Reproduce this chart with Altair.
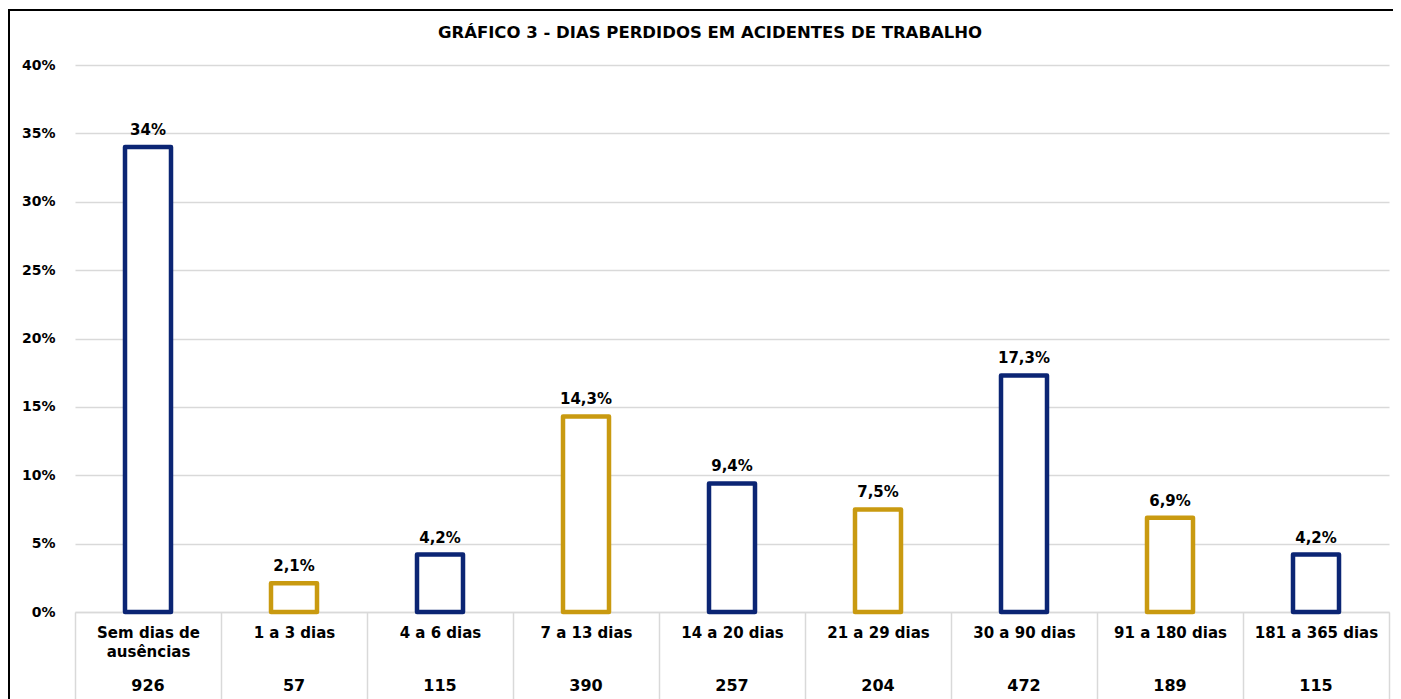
import altair as alt
import pandas as pd

categorias = ["Sem dias de|ausências", "1 a 3 dias", "4 a 6 dias", "7 a 13 dias",
              "14 a 20 dias", "21 a 29 dias", "30 a 90 dias", "91 a 180 dias",
              "181 a 365 dias"]
percentuais = [34.0, 2.1, 4.2, 14.3, 9.4, 7.5, 17.3, 6.9, 4.2]
rotulos = ["34%", "2,1%", "4,2%", "14,3%", "9,4%", "7,5%", "17,3%", "6,9%", "4,2%"]
contagens = [926, 57, 115, 390, 257, 204, 472, 189, 115]
grupos = ["A", "B", "A", "B", "A", "B", "A", "B", "A"]
ticks_y = [0, 5, 10, 15, 20, 25, 30, 35, 40]
titulo = "GRÁFICO 3 - DIAS PERDIDOS EM ACIDENTES DE TRABALHO"

NAVY = "#0b2574"
GOLD = "#c99a10"
GRID = "#d9d9d9"
FONT = "DejaVu Sans"

W, H = 1314, 547

df = pd.DataFrame({
    "cat": categorias,
    "pct": percentuais,
    "rot": rotulos,
    "n": contagens,
    "grupo": grupos,
})

x_enc = alt.X(
    "cat:N", sort=categorias, title=None,
    scale=alt.Scale(paddingInner=0, paddingOuter=0),
    axis=alt.Axis(
        labelAngle=0, labelFont=FONT, labelFontWeight="bold", labelFontSize=15,
        labelColor="black", labelExpr="split(datum.label, '|')", labelLineHeight=19,
        ticks=True, tickBand="extent", tickSize=110, tickColor=GRID, tickWidth=1.5,
        labelPadding=-97, domain=True, domainColor=GRID, domainWidth=1.5, grid=False,
        labelBaseline="top",
    ),
)
y_enc = alt.Y(
    "pct:Q", title=None,
    scale=alt.Scale(domain=[0, 40], nice=False),
    axis=alt.Axis(
        values=ticks_y, labelExpr="datum.value + '%'", labelFont=FONT,
        labelFontWeight="bold", labelFontSize=14, labelColor="black",
        labelPadding=20, ticks=False, domain=False, grid=True, gridColor=GRID,
        gridWidth=1.5,
    ),
)

base = alt.Chart(df)

bars = base.mark_bar(size=46, fill="white", strokeWidth=4.5, strokeJoin="round").encode(
    x=x_enc,
    y=y_enc,
    stroke=alt.Stroke("grupo:N", scale=alt.Scale(domain=["A", "B"], range=[NAVY, GOLD]),
                      legend=None),
)

vals = base.mark_text(font=FONT, fontWeight="bold", fontSize=15, color="black",
                      baseline="alphabetic", dy=-12).encode(
    x=alt.X("cat:N", sort=categorias),
    y=alt.Y("pct:Q"),
    text="rot:N",
)

counts = base.mark_text(font=FONT, fontWeight="bold", fontSize=16, color="black",
                        baseline="middle").encode(
    x=alt.X("cat:N", sort=categorias),
    y=alt.value(H + 74),
    text="n:Q",
)

title_df = pd.DataFrame({"t": [titulo]})
title = alt.Chart(title_df).mark_text(font=FONT, fontWeight="bold", fontSize=16.5,
                                      color="black", baseline="middle").encode(
    x=alt.value(635), y=alt.value(-32), text="t:N",
)

frame_top = alt.Chart(title_df).mark_rule(stroke="black", strokeWidth=2).encode(
    x=alt.value(-67), x2=alt.value(W + 60), y=alt.value(-55),
)
frame_left = alt.Chart(title_df).mark_rule(stroke="black", strokeWidth=2).encode(
    x=alt.value(-66), y=alt.value(-56), y2=alt.value(H + 200),
)

chart = alt.layer(bars, vals, counts, title, frame_top, frame_left).properties(
    width=W, height=H,
    padding={"left": 67, "top": 57, "right": 4, "bottom": 100},
    autosize=alt.AutoSizeParams(type="none"),
).configure_view(strokeWidth=0)

chart.save("out.html", embed_options={"renderer": "svg", "actions": False})
